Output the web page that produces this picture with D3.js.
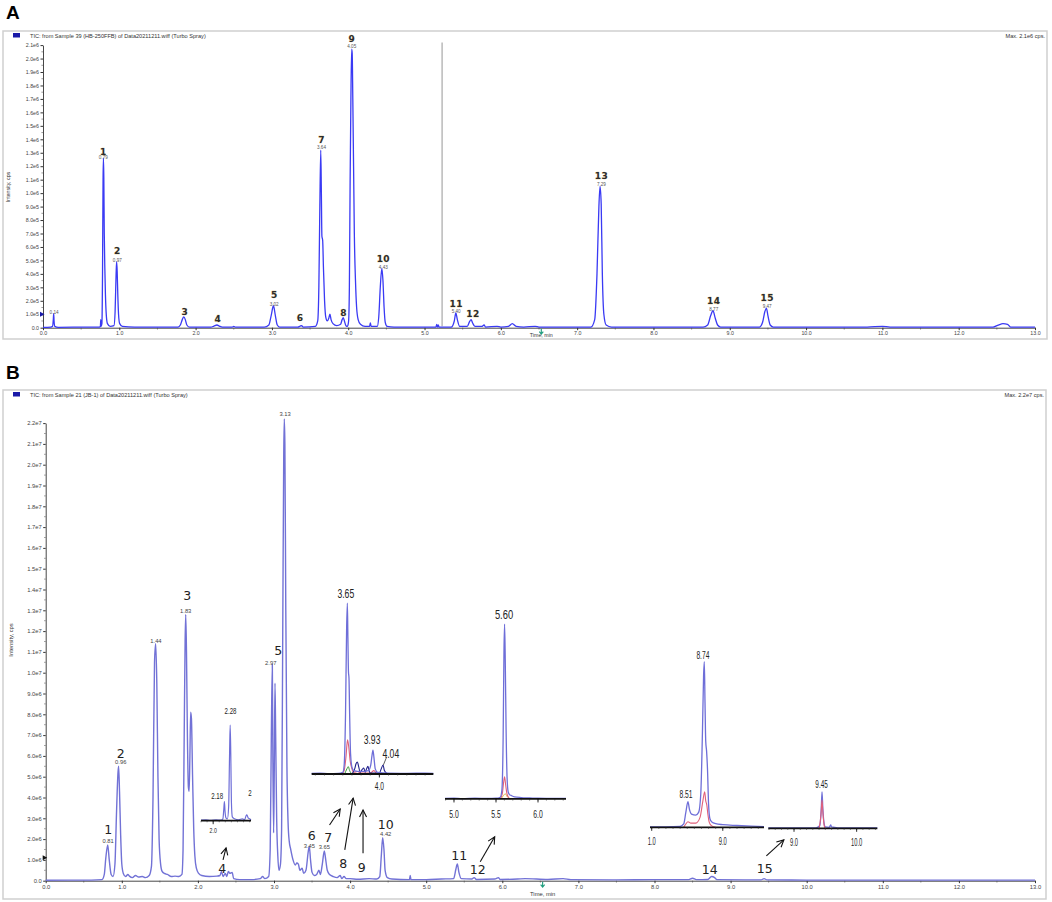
<!DOCTYPE html>
<html><head><meta charset="utf-8">
<script src="https://cdn.jsdelivr.net/npm/d3@7/dist/d3.min.js"></script>
<style>
html,body{margin:0;padding:0;background:#fff;}
svg{display:block;font-family:"Liberation Sans",Arial,sans-serif;}
</style></head><body>
<svg id="chart" width="1052" height="902"></svg>
<script>
// ================= DATA =================
const timeTicks = [0,1,2,3,4,5,6,7,8,9,10,11,12,13];
const timeTickLabels = ["0.0","1.0","2.0","3.0","4.0","5.0","6.0","7.0","8.0","9.0","10.0","11.0","12.0","13.0"];

// Panel A intensity in units of 1e5 cps
const aIntensityTicks = [0,1,2,3,4,5,6,7,8,9,10,11,12,13,14,15,16,17,18,19,20,21];
const aIntensityLabels = ["0.0","1.0e5","2.0e5","3.0e5","4.0e5","5.0e5","6.0e5","7.0e5","8.0e5","9.0e5","1.0e6","1.1e6","1.2e6","1.3e6","1.4e6","1.5e6","1.6e6","1.7e6","1.8e6","1.9e6","2.0e6","2.1e6"];
// Panel B intensity in units of 1e6 cps
const bIntensityTicks = [0,1,2,3,4,5,6,7,8,9,10,11,12,13,14,15,16,17,18,19,20,21,22];
const bIntensityLabels = ["0.0","1.0e6","2.0e6","3.0e6","4.0e6","5.0e6","6.0e6","7.0e6","8.0e6","9.0e6","1.0e7","1.1e7","1.2e7","1.3e7","1.4e7","1.5e7","1.6e7","1.7e7","1.8e7","1.9e7","2.0e7","2.1e7","2.2e7"];

// TIC trace A: [time min, intensity 1e5 cps]
const aTrace = [[0.00,0.02],[0.10,0.04],[0.125,0.1],[0.135,0.6],[0.14,1.05],[0.145,0.5],[0.155,0.1],[0.2,0.03],[0.5,0.04],[0.74,0.04],[0.752,0.1],[0.757,0.6],[0.762,0.1],[0.772,0.3],[0.78,4],[0.787,11],[0.792,12.6],[0.797,11.2],[0.803,7],[0.81,4.5],[0.818,2.5],[0.83,0.9],[0.845,0.3],[0.88,0.1],[0.93,0.15],[0.945,1.2],[0.958,4],[0.965,4.9],[0.972,4.2],[0.98,2.5],[0.99,1],[1.005,0.3],[1.04,0.1],[1.2,0.04],[1.5,0.05],[1.77,0.05],[1.80,0.2],[1.825,0.6],[1.845,0.8],[1.865,0.6],[1.885,0.2],[1.92,0.04],[2.2,0.04],[2.24,0.12],[2.28,0.2],[2.31,0.12],[2.35,0.04],[2.48,0.05],[2.5,0.1],[2.52,0.05],[2.9,0.04],[2.96,0.2],[2.99,0.9],[3.02,1.63],[3.045,0.9],[3.07,0.2],[3.1,0.05],[3.34,0.04],[3.37,0.12],[3.39,0.15],[3.41,0.05],[3.57,0.1],[3.60,0.5],[3.615,3],[3.628,9],[3.64,13.2],[3.648,10],[3.655,6.8],[3.665,6.5],[3.675,4.5],[3.69,2],[3.705,0.8],[3.725,0.5],[3.745,0.7],[3.76,1.0],[3.775,0.6],[3.8,0.3],[3.85,0.15],[3.9,0.25],[3.92,0.6],[3.935,0.75],[3.95,0.5],[3.97,0.15],[3.99,0.1],[4.005,0.5],[4.015,3],[4.025,11],[4.035,17],[4.045,20.7],[4.052,20.4],[4.06,17],[4.07,12],[4.08,7],[4.095,3.5],[4.11,1.5],[4.13,0.6],[4.16,0.25],[4.22,0.1],[4.28,0.1],[4.29,0.35],[4.30,0.1],[4.38,0.1],[4.40,0.8],[4.42,3],[4.44,4.4],[4.455,3.5],[4.47,1.5],[4.485,0.4],[4.51,0.1],[4.6,0.05],[5.0,0.05],[5.15,0.05],[5.16,0.25],[5.17,0.05],[5.18,0.2],[5.19,0.05],[5.35,0.05],[5.39,0.5],[5.41,1.1],[5.43,0.6],[5.46,0.1],[5.56,0.1],[5.59,0.45],[5.61,0.6],[5.63,0.35],[5.66,0.1],[5.75,0.1],[5.78,0.2],[5.80,0.05],[5.95,0.1],[6.0,0.05],[6.10,0.1],[6.15,0.3],[6.2,0.1],[6.3,0.05],[6.45,0.1],[6.5,0.05],[7.18,0.05],[7.23,0.6],[7.26,4],[7.285,9],[7.30,10.5],[7.315,9.2],[7.33,4],[7.35,1],[7.38,0.2],[7.45,0.05],[8.65,0.05],[8.71,0.2],[8.75,0.9],[8.78,1.26],[8.81,0.7],[8.84,0.2],[8.88,0.05],[9.39,0.05],[9.43,0.4],[9.46,1.2],[9.48,1.46],[9.50,0.9],[9.53,0.2],[9.57,0.05],[10.8,0.05],[11.0,0.1],[11.1,0.05],[12.45,0.05],[12.52,0.2],[12.58,0.3],[12.64,0.25],[12.68,0.05],[13.0,0.04]];

// TIC trace B: [time min, intensity 1e6 cps]
const bTrace = [[0,0.02],[0.3,0.03],[0.6,0.03],[0.74,0.05],[0.77,0.3],[0.79,1.1],[0.815,1.72],[0.835,1.0],[0.86,0.3],[0.885,0.2],[0.91,0.8],[0.93,3.2],[0.95,5.2],[0.958,5.5],[0.97,4.3],[0.985,2.2],[1.0,0.8],[1.02,0.35],[1.05,0.2],[1.08,0.3],[1.1,0.22],[1.14,0.15],[1.18,0.25],[1.22,0.18],[1.27,0.2],[1.31,0.15],[1.36,0.25],[1.39,0.7],[1.41,4],[1.43,10.5],[1.445,11.4],[1.46,9.5],[1.475,5],[1.49,2],[1.51,0.8],[1.53,0.45],[1.56,0.35],[1.6,0.3],[1.65,0.2],[1.7,0.22],[1.75,0.2],[1.79,0.3],[1.805,1.5],[1.82,7],[1.832,11.5],[1.84,12.8],[1.85,11],[1.862,7],[1.875,4.5],[1.885,4.3],[1.895,6],[1.905,8.1],[1.915,7.8],[1.93,5],[1.945,2.5],[1.96,1.2],[1.98,0.6],[2.01,0.35],[2.05,0.25],[2.15,0.2],[2.25,0.22],[2.29,0.25],[2.31,0.45],[2.33,0.2],[2.36,0.35],[2.38,0.2],[2.40,0.45],[2.42,0.35],[2.45,0.4],[2.47,0.1],[2.55,0.05],[2.7,0.05],[2.82,0.1],[2.85,0.2],[2.88,0.1],[2.93,0.2],[2.95,1.5],[2.965,7],[2.978,10.4],[2.985,6],[2.995,2.3],[3.003,5],[3.013,9.5],[3.022,7],[3.035,3],[3.05,1.2],[3.065,0.5],[3.085,0.8],[3.1,2.5],[3.115,12],[3.128,20.5],[3.135,22.2],[3.143,21],[3.155,13],[3.17,5.5],[3.185,2.8],[3.2,1.9],[3.22,1.5],[3.25,1.0],[3.28,0.75],[3.30,0.85],[3.32,0.8],[3.34,0.5],[3.37,0.6],[3.39,0.35],[3.42,0.5],[3.45,1.4],[3.464,1.65],[3.48,1.0],[3.50,0.4],[3.53,0.25],[3.56,0.3],[3.59,0.5],[3.61,0.3],[3.635,0.8],[3.661,1.43],[3.68,1.0],[3.70,0.5],[3.73,0.3],[3.78,0.2],[3.83,0.15],[3.87,0.25],[3.89,0.1],[3.92,0.2],[3.95,0.1],[4.0,0.1],[4.1,0.07],[4.25,0.1],[4.35,0.08],[4.39,0.2],[4.41,1.2],[4.428,2.07],[4.445,1.5],[4.46,0.5],[4.49,0.15],[4.55,0.08],[4.78,0.05],[4.79,0.25],[4.80,0.05],[5.0,0.05],[5.2,0.08],[5.36,0.1],[5.39,0.55],[5.409,0.8],[5.43,0.4],[5.46,0.1],[5.6,0.08],[5.63,0.15],[5.66,0.06],[5.9,0.08],[5.95,0.15],[5.97,0.06],[6.2,0.08],[6.3,0.1],[6.6,0.06],[6.8,0.1],[6.9,0.05],[7.5,0.04],[8.0,0.05],[8.45,0.05],[8.5,0.12],[8.55,0.05],[8.7,0.06],[8.75,0.2],[8.79,0.15],[8.82,0.05],[9.4,0.04],[9.44,0.1],[9.48,0.04],[10,0.03],[11,0.03],[12,0.03],[13,0.03]];

// Peak number labels [text, time, intensity level of text baseline]
const aPeakLabels = [["1",0.79,12.78],["2",0.974,5.39],["3",1.86,0.85],["4",2.29,0.31],["5",3.03,2.1],["6",3.37,0.39],["7",3.65,13.61],["8",3.94,0.76],["9",4.046,21.11],["10",4.46,4.79],["11",5.415,1.48],["12",5.634,0.68],["13",7.318,10.96],["14",8.79,1.67],["15",9.49,1.92]];
const aRtLabels = [["0.14",0.145,1.09],["0.79",0.79,12.56],["0.97",0.974,4.93],["3.02",3.03,1.66],["3.64",3.65,13.3],["4.05",4.046,20.85],["4.43",4.46,4.38],["5.40",5.415,1.11],["7.29",7.318,10.58],["8.77",8.79,1.29],["9.47",9.49,1.49]];
const bPeakLabels = [["1",0.823,2.17],["2",0.986,5.86],["3",1.861,13.42],["4",2.321,0.33],["5",3.056,10.78],["6",3.495,1.88],["7",3.714,1.82],["8",3.911,0.57],["9",4.152,0.35],["10",4.468,2.45],["11",5.435,0.92],["12",5.677,0.25],["14",8.727,0.28],["15",9.448,0.33]];
const bRtLabels = [["0.81",0.82,1.83],["0.96",0.986,5.63],["1.44",1.449,11.48],["1.83",1.84,12.92],["2.97",2.957,10.4],["3.13",3.145,22.39],["3.45",3.464,1.62],["3.65",3.661,1.54],["4.42",4.468,2.18]];

// Arrows in panel B: [t0, v0, t1, v1] (main axes units)
const bArrows = [[2.33,1.00,2.37,1.58],[3.73,2.68,3.87,3.45],[3.93,1.48,4.04,3.97],[4.17,1.32,4.17,3.40],[5.71,0.91,5.90,2.11],[9.47,1.19,9.70,1.96]];

// Inset (XIC) traces: [time, relative intensity]
const inset1Blue = [[1.80,0.5],[1.88,0.8],[1.95,0.3],[2.05,1],[2.12,0.5],[2.16,2],[2.175,12],[2.185,20],[2.195,10],[2.21,3],[2.235,2],[2.255,15],[2.27,70],[2.28,100],[2.29,70],[2.30,20],[2.315,4],[2.35,2],[2.42,1],[2.48,2],[2.52,1],[2.54,5],[2.555,6],[2.575,3],[2.6,2],[2.623,1]];
const inset2Blue = [[3.26,0.3],[3.35,0.5],[3.45,0.2],[3.55,0.4],[3.60,1],[3.615,5],[3.63,35],[3.642,85],[3.65,100],[3.656,80],[3.662,60],[3.668,56],[3.675,35],[3.685,12],[3.70,4],[3.72,2],[3.80,1.5],[3.88,2],[3.905,5],[3.92,11],[3.93,14],[3.94,10],[3.955,3],[3.98,1],[4.1,0.5],[4.3,0.4],[4.5,0.5],[4.59,0.3]];
const inset2Navy = [[3.70,0],[3.73,3],[3.745,6],[3.76,7],[3.775,4],[3.79,1],[3.81,2.5],[3.83,3.5],[3.845,1],[3.86,3],[3.875,4.5],[3.89,1.5],[3.90,0.5],[4.00,0.5],[4.02,3],[4.04,5.3],[4.055,2],[4.08,0.5],[4.1,0]];
const inset2Red = [[3.59,0],[3.615,2],[3.635,10],[3.652,20],[3.665,16],[3.68,8],[3.70,3],[3.72,1],[3.76,1.5],[3.80,0.5],[3.9,0.5],[3.94,2],[3.97,0.3],[4.0,0]];
const inset2Green = [[3.62,0],[3.645,3],[3.66,4.3],[3.675,2],[3.69,0.5],[3.72,0]];
const inset3Blue = [[4.893,0.3],[5.0,0.4],[5.1,0.2],[5.25,0.4],[5.4,0.3],[5.5,0.4],[5.55,1],[5.57,5],[5.585,35],[5.595,85],[5.602,100],[5.61,80],[5.62,40],[5.632,12],[5.645,4],[5.66,2.5],[5.68,2],[5.72,1.2],[5.8,0.8],[5.9,0.6],[6.0,0.4],[6.2,0.3],[6.333,0.3]];
const inset3Red = [[5.55,0],[5.575,3],[5.592,10],[5.602,12.7],[5.615,8],[5.63,3],[5.65,0.8],[5.67,0]];
const inset3Yellow = [[5.56,0],[5.59,2],[5.61,3],[5.63,1.5],[5.66,0.3],[5.68,0]];
const inset4Blue = [[7.976,0.3],[8.2,0.3],[8.4,0.5],[8.45,2],[8.48,9],[8.51,15.5],[8.53,11],[8.56,8],[8.62,7.4],[8.66,9],[8.69,20],[8.715,60],[8.73,92],[8.74,100],[8.75,75],[8.76,52],[8.772,46],[8.785,35],[8.80,14],[8.82,5],[8.85,3],[8.9,2.2],[9.0,1.6],[9.2,1.1],[9.4,0.7],[9.58,0.4]];
const inset4Red = [[8.45,0],[8.48,2],[8.51,3.4],[8.55,2.5],[8.62,2.5],[8.68,6],[8.72,16],[8.745,21.5],[8.76,16],[8.775,13.5],[8.79,8],[8.81,3],[8.84,1],[8.9,0]];
const inset5Blue = [[8.59,0.2],[9.0,0.3],[9.35,0.3],[9.41,1.5],[9.435,12],[9.447,22],[9.46,12],[9.48,3],[9.50,0.8],[9.56,0.6],[9.585,2],[9.6,0.8],[9.7,0.3],[10.0,0.3],[10.33,0.2]];
const inset5Red = [[9.40,0],[9.43,8],[9.447,17],[9.462,9],[9.485,1],[9.5,0]];

// Inset axis ticks and annotations [text, time, relative level]
const inset1Ticks = [2.0], inset1TickLabels = ["2.0"];
const inset1Labels = [["2.18",2.066,22.7],["2.28",2.285,111],["2",2.607,26.3]];
const inset2Ticks = [4.0], inset2TickLabels = ["4.0"];
const inset2Labels = [["3.65",3.633,102.8],["3.93",3.92,17.3],["4.04",4.125,9.1]];
const inset3Ticks = [5.0,5.5,6.0], inset3TickLabels = ["5.0","5.5","6.0"];
const inset3Labels = [["5.60",5.595,102.6]];
const inset4Ticks = [8.0,9.0], inset4TickLabels = ["1.0","9.0"];
const inset4Labels = [["8.74",8.72,101.9],["8.51",8.483,18]];
const inset5Ticks = [9.0,10.0], inset5TickLabels = ["9.0","10.0"];
const inset5Labels = [["9.45",9.44,24.6]];

// ================= DRAWING =================
const svg = d3.select("#chart");
svg.append("rect").attr("width",1052).attr("height",902).attr("fill","#fff");

const line = (x,y)=>d3.line().x(d=>x(d[0])).y(d=>y(d[1])).curve(d3.curveMonotoneX);

function drawPanel(cfg){
  const g = svg.append("g");
  g.append("rect").attr("x",cfg.frame[0]).attr("y",cfg.frame[1])
    .attr("width",cfg.frame[2]-cfg.frame[0]).attr("height",cfg.frame[3]-cfg.frame[1])
    .attr("fill","none").attr("stroke","#cfcfcf").attr("stroke-width",1.5);
  svg.append("text").attr("x",cfg.letterPos[0]).attr("y",cfg.letterPos[1])
    .attr("font-family","Liberation Sans, Arial, sans-serif").attr("font-weight","bold")
    .attr("font-size",19).attr("fill","#000").text(cfg.letter);
  g.append("rect").attr("x",cfg.frame[0]+10).attr("y",cfg.frame[1]+2).attr("width",7).attr("height",4.5).attr("fill","#1a1aa8");
  g.append("text").attr("x",cfg.frame[0]+27).attr("y",cfg.frame[1]+7).attr("font-size",5.6).attr("fill","#333").text(cfg.title);
  g.append("text").attr("x",cfg.frame[2]-2).attr("y",cfg.frame[1]+7).attr("text-anchor","end").attr("font-size",5.6).attr("fill","#333").text(cfg.maxText);

  const x = d3.scaleLinear().domain([0,13]).range([cfg.x0,cfg.x1]);
  const y = d3.scaleLinear().domain([0,cfg.yMax]).range([cfg.yBase,cfg.yTop]);

  const xa = g.append("g").attr("transform",`translate(0,${cfg.yBase})`)
    .call(d3.axisBottom(x).tickValues(timeTicks).tickFormat((d,i)=>timeTickLabels[i]).tickSize(2.5).tickSizeOuter(0).tickPadding(1.2));
  xa.selectAll("text").attr("font-size",cfg.tickFont).attr("fill","#444").attr("font-family","Liberation Sans, Arial, sans-serif");
  xa.select(".domain").attr("stroke","#333").attr("stroke-width",0.9);
  xa.selectAll(".tick line").attr("stroke","#333");
  g.selectAll(null).data(timeTicks.slice(0,-1)).enter().append("line")
    .attr("x1",d=>x(d+0.5)).attr("x2",d=>x(d+0.5)).attr("y1",cfg.yBase).attr("y2",cfg.yBase+1.8)
    .attr("stroke","#555").attr("stroke-width",0.7);
  const ya = g.append("g").attr("transform",`translate(${cfg.x0},0)`)
    .call(d3.axisLeft(y).tickValues(cfg.yTicks).tickFormat((d,i)=>cfg.yLabels[i]).tickSize(2.5).tickSizeOuter(0).tickPadding(1.5));
  ya.selectAll("text").attr("font-size",cfg.tickFont).attr("fill","#444").attr("font-family","Liberation Sans, Arial, sans-serif");
  ya.select(".domain").attr("stroke","#333").attr("stroke-width",0.9);
  ya.selectAll(".tick line").attr("stroke","#333");
  g.selectAll(null).data(cfg.yTicks.slice(0,-1)).enter().append("line")
    .attr("x1",cfg.x0-1.6).attr("x2",cfg.x0).attr("y1",d=>y(d+0.5)).attr("y2",d=>y(d+0.5))
    .attr("stroke","#555").attr("stroke-width",0.6);
  g.append("text").attr("transform",`translate(${cfg.yTitleX},${cfg.yTitleY}) rotate(-90)`)
    .attr("text-anchor","middle").attr("font-size",cfg.tickFont).attr("fill","#333").text("Intensity, cps");
  g.append("text").attr("x",x(6.53)).attr("y",cfg.yBase+cfg.timeTitleDy).attr("text-anchor","middle")
    .attr("font-size",cfg.tickFont).attr("fill","#333").text("Time, min");
  const gx = x(6.53);
  g.append("path").attr("d",`M${gx},${cfg.yBase+1} L${gx},${cfg.yBase+6} M${gx-2},${cfg.yBase+4} L${gx},${cfg.yBase+6.5} L${gx+2},${cfg.yBase+4}`)
    .attr("stroke","#1c9c7c").attr("stroke-width",1.1).attr("fill","none");
  const my = y(cfg.markerV);
  g.append("path").attr("d",`M${cfg.x0-3},${my-2.5} L${cfg.x0+1.5},${my} L${cfg.x0-3},${my+2.5} Z`).attr("fill",cfg.markerColor);
  return {g,x,y};
}

// ---------- Panel A ----------
const pa = drawPanel({letter:"A",letterPos:[6,19],frame:[3,31,1047,339],
  title:"TIC: from Sample 39 (HB-250FFB) of Data20211211.wiff (Turbo Spray)",maxText:"Max. 2.1e6 cps.",
  x0:43,x1:1035,yBase:327.7,yTop:45.1,yMax:21,yTicks:aIntensityTicks,yLabels:aIntensityLabels,
  tickFont:5.3,yTitleX:10,yTitleY:187,timeTitleDy:9,markerV:1.0,markerColor:"#1a1aa8"});
pa.g.append("line").attr("x1",pa.x(5.23)).attr("x2",pa.x(5.23)).attr("y1",pa.y(0.1)).attr("y2",pa.y(21.2))
  .attr("stroke","#a8a8a8").attr("stroke-width",1.2);
pa.g.append("path").datum(aTrace).attr("d",line(pa.x,pa.y)).attr("fill","none")
  .attr("stroke","#3a3af4").attr("stroke-width",1.3).attr("stroke-linejoin","round");
pa.g.selectAll(null).data(aPeakLabels).enter().append("text")
  .attr("x",d=>pa.x(d[1])).attr("y",d=>pa.y(d[2])).attr("dy",-1.2).attr("text-anchor","middle")
  .attr("font-family","DejaVu Sans, Verdana, sans-serif").attr("font-weight","bold").attr("font-size",9)
  .attr("letter-spacing",0.4).attr("fill","#2c2c2c").attr("stroke","#e0c070").attr("stroke-width",0.35)
  .attr("paint-order","stroke").text(d=>d[0]);
pa.g.selectAll(null).data(aRtLabels).enter().append("text")
  .attr("x",d=>pa.x(d[1])).attr("y",d=>pa.y(d[2])).attr("dy",0.6).attr("text-anchor","middle")
  .attr("font-size",4.6).attr("fill","#555").text(d=>d[0]);

// ---------- Panel B ----------
const pb = drawPanel({letter:"B",letterPos:[6,379],frame:[3,390,1046,899],
  title:"TIC: from Sample 21 (JB-1) of Data20211211.wiff (Turbo Spray)",maxText:"Max. 2.2e7 cps.",
  x0:45.7,x1:1035,yBase:880.7,yTop:423.1,yMax:22,yTicks:bIntensityTicks,yLabels:bIntensityLabels,
  tickFont:5.8,yTitleX:13,yTitleY:640,timeTitleDy:15,markerV:1.1,markerColor:"#111"});
pb.g.append("path").datum(bTrace).attr("d",line(pb.x,pb.y)).attr("fill","none")
  .attr("stroke","#7272d6").attr("stroke-width",1.4).attr("stroke-linejoin","round");
pb.g.selectAll(null).data(bPeakLabels).enter().append("text")
  .attr("x",d=>pb.x(d[1])).attr("y",d=>pb.y(d[2])).attr("dy",-1.2).attr("text-anchor","middle")
  .attr("font-family","DejaVu Sans, Verdana, sans-serif").attr("font-size",12.5).attr("fill","#222").text(d=>d[0]);
pb.g.selectAll(null).data(bRtLabels).enter().append("text")
  .attr("x",d=>pb.x(d[1])).attr("y",d=>pb.y(d[2])).attr("dy",0.8).attr("text-anchor","middle")
  .attr("font-size",5.8).attr("fill","#444").text(d=>d[0]);

const defs = svg.append("defs");
defs.append("marker").attr("id","arr").attr("markerUnits","userSpaceOnUse").attr("markerWidth",10).attr("markerHeight",10)
  .attr("refX",8).attr("refY",4).attr("orient","auto")
  .append("path").attr("d","M1,0.5 L8,4 L1,7.5").attr("fill","none").attr("stroke","#111").attr("stroke-width",1.1);
pb.g.selectAll(null).data(bArrows).enter().append("line")
  .attr("x1",d=>pb.x(d[0])).attr("y1",d=>pb.y(d[1])).attr("x2",d=>pb.x(d[2])).attr("y2",d=>pb.y(d[3]))
  .attr("stroke","#111").attr("stroke-width",1.1).attr("marker-end","url(#arr)");

// ---------- Insets ----------
function drawInset(c){
  const g = svg.append("g");
  const xi = d3.scaleLinear().domain(c.domain).range([pb.x(c.main[0]),pb.x(c.main[1])]);
  const yi = d3.scaleLinear().domain([0,100]).range([pb.y(c.vBase),pb.y(c.vBase+c.vPer100)]);
  c.traces.forEach(tr=>{
    g.append("path").datum(tr.data).attr("d",line(xi,yi)).attr("fill","none")
      .attr("stroke",tr.color).attr("stroke-width",tr.w||1.2).attr("stroke-linejoin","round");
  });
  g.append("line").attr("x1",xi(c.domain[0])).attr("x2",xi(c.domain[1])).attr("y1",yi(0)).attr("y2",yi(0))
    .attr("stroke","#111").attr("stroke-width",1.8);
  const minor = d3.range(Math.ceil(c.domain[0]*10), Math.floor(c.domain[1]*10)+1).map(v=>v/10);
  g.selectAll(null).data(minor).enter().append("line")
    .attr("x1",d=>xi(d)).attr("x2",d=>xi(d)).attr("y1",yi(0)).attr("y2",yi(0)+1.6)
    .attr("stroke","#333").attr("stroke-width",0.6);
  g.selectAll(null).data(c.ticks).enter().append("line")
    .attr("x1",d=>xi(d)).attr("x2",d=>xi(d)).attr("y1",yi(0)).attr("y2",yi(0)+3.5)
    .attr("stroke","#111").attr("stroke-width",0.9);
  g.selectAll(null).data(c.ticks).enter().append("text")
    .attr("transform",d=>`translate(${xi(d)},${yi(0)+c.tickDy}) scale(${c.tickSx},1)`).attr("text-anchor","middle")
    .attr("font-size",c.tickFs).attr("fill","#222")
    .text((d,i)=>c.tickLabels[i]);
  g.selectAll(null).data(c.labels).enter().append("text")
    .attr("transform",d=>`translate(${xi(d[1])},${yi(d[2])}) scale(${c.labelSx},1)`).attr("text-anchor","middle")
    .attr("font-size",c.labelFs).attr("fill","#222").text(d=>d[0]);
  return {g,xi,yi};
}
const blue="#6e6ed8", navy="#20208a", red="#e0607a", green="#3a9a3a", yellow="#e0b840";
drawInset({domain:[1.80,2.623],main:[2.041,2.698],vBase:2.885,vPer100:4.60,
  traces:[{data:inset1Blue,color:blue,w:1.2}],ticks:inset1Ticks,tickLabels:inset1TickLabels,tickDy:12,tickFs:8,tickSx:0.65,
  labels:inset1Labels,labelFs:8.5,labelSx:0.72});
const i2 = drawInset({domain:[3.26,4.59],main:[3.495,5.094],vBase:5.13,vPer100:8.21,
  traces:[{data:inset2Green,color:green,w:1},{data:inset2Red,color:red,w:1.1},{data:inset2Navy,color:navy,w:1.1},{data:inset2Blue,color:blue,w:1.3}],
  ticks:inset2Ticks,tickLabels:inset2TickLabels,tickDy:16,tickFs:11,tickSx:0.6,labels:inset2Labels,labelFs:12,labelSx:0.72});
i2.g.append("line").attr("x1",i2.xi(4.044)).attr("y1",i2.yi(5.3)).attr("x2",i2.xi(4.08)).attr("y2",i2.yi(10))
  .attr("stroke","#333").attr("stroke-width",0.8);
drawInset({domain:[4.893,6.333],main:[5.247,6.837],vBase:3.93,vPer100:8.41,
  traces:[{data:inset3Yellow,color:yellow,w:1},{data:inset3Red,color:red,w:1.1},{data:inset3Blue,color:blue,w:1.3}],
  ticks:inset3Ticks,tickLabels:inset3TickLabels,tickDy:19,tickFs:11,tickSx:0.62,labels:inset3Labels,labelFs:12.5,labelSx:0.75});
drawInset({domain:[7.976,9.58],main:[7.941,9.439],vBase:2.567,vPer100:7.96,
  traces:[{data:inset4Red,color:red,w:1.1},{data:inset4Blue,color:blue,w:1.3}],
  ticks:inset4Ticks,tickLabels:inset4TickLabels,tickDy:18,tickFs:10.5,tickSx:0.55,labels:inset4Labels,labelFs:11.5,labelSx:0.58});
drawInset({domain:[8.59,10.33],main:[9.496,10.928],vBase:2.519,vPer100:7.96,
  traces:[{data:inset5Blue,color:blue,w:1.3},{data:inset5Red,color:red,w:1.1}],
  ticks:inset5Ticks,tickLabels:inset5TickLabels,tickDy:18,tickFs:10.5,tickSx:0.55,labels:inset5Labels,labelFs:11,labelSx:0.58});
</script>
</body></html>
